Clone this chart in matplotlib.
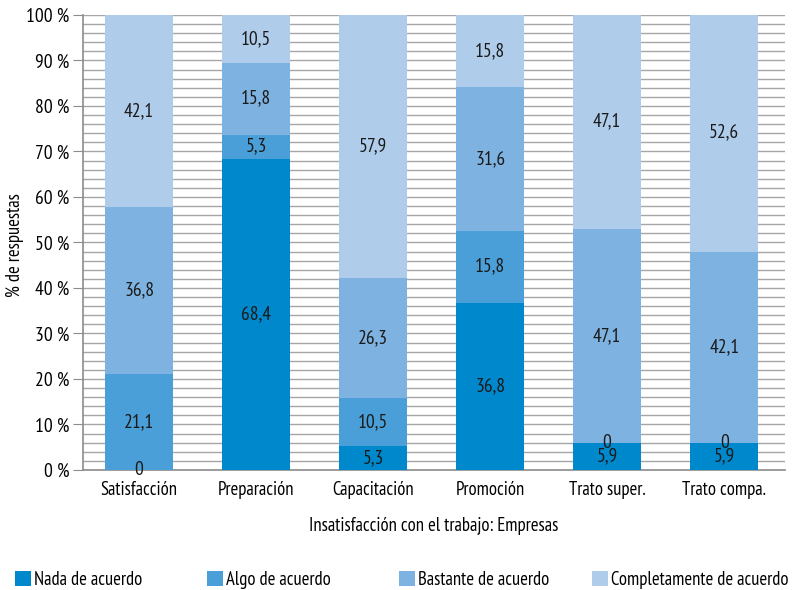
import matplotlib
matplotlib.use("Agg")
import matplotlib.pyplot as plt
from matplotlib import font_manager
from matplotlib.patches import Patch
from matplotlib.ticker import MultipleLocator, FuncFormatter

names = {f.name for f in font_manager.fontManager.ttflist}
preferred = ["PT Sans Narrow", "Fira Sans Condensed", "Roboto Condensed",
             "Open Sans Condensed", "Archivo Narrow", "Asap Condensed",
             "Encode Sans Condensed", "Liberation Sans Narrow", "Barlow Semi Condensed"]
family = next((f for f in preferred if f in names), "DejaVu Sans")
plt.rcParams["font.family"] = [family, "DejaVu Sans"]

categories = ["Satisfacción", "Preparación", "Capacitación", "Promoción",
              "Trato super.", "Trato compa."]
series_names = ["Nada de acuerdo", "Algo de acuerdo", "Bastante de acuerdo",
                "Completamente de acuerdo"]
nada = [0, 68.4, 5.3, 36.8, 5.9, 5.9]
algo = [21.1, 5.3, 10.5, 15.8, 0, 0]
bastante = [36.8, 15.8, 26.3, 31.6, 47.1, 42.1]
completamente = [42.1, 10.5, 57.9, 15.8, 47.1, 52.6]
series = [nada, algo, bastante, completamente]
colors = ["#0088cc", "#4a9fd8", "#7eb2e0", "#afcdeb"]

FS = 13.4

fig = plt.figure(figsize=(7.92, 5.90), dpi=100)
ax = fig.add_axes([0.1048, 0.2034, 0.8864, 0.7712])

x = list(range(len(categories)))
bottoms = [0.0] * len(categories)
for vals, col in zip(series, colors):
    ax.bar(x, vals, bottom=bottoms, width=0.578, color=col, zorder=3)
    for i, v in enumerate(vals):
        ax.text(i, bottoms[i] + v / 2, f"{v:g}".replace(".", ","),
                ha="center", va="center", fontsize=14, color="#1a1a1a", zorder=4)
    bottoms = [b + v for b, v in zip(bottoms, vals)]

ax.set_xlim(-0.48, 5.52)
ax.set_ylim(0, 100)
ax.yaxis.set_major_locator(MultipleLocator(10))
ax.yaxis.set_minor_locator(MultipleLocator(2))
ax.yaxis.set_major_formatter(FuncFormatter(lambda v, p: f"{v:.0f} %"))
ax.grid(axis="y", which="both", color="#a6a6a6", linewidth=1.0, zorder=0)
ax.set_axisbelow(True)

for s in ["top", "right"]:
    ax.spines[s].set_visible(False)
for s in ["left", "bottom"]:
    ax.spines[s].set_color("#8c8c8c")
    ax.spines[s].set_linewidth(1.2)

ax.tick_params(axis="y", which="major", length=7, color="#8c8c8c", labelsize=14, pad=3)
ax.tick_params(axis="y", which="minor", length=0)
ax.tick_params(axis="x", length=0, labelsize=FS, pad=8)
ax.set_xticks(x)
ax.set_xticklabels(categories)

fig.text(0.019, 0.5847, "% de respuestas", rotation=90, ha="center", va="center", fontsize=FS)
ax.set_xlabel("Insatisfacción con el trabajo: Empresas", fontsize=FS, labelpad=13)

# legend entries spread along the bottom
legend_x = [0.0189, 0.2614, 0.5038, 0.7475]
for name, col, lx in zip(series_names, colors, legend_x):
    fig.legend([Patch(facecolor=col, edgecolor="none")], [name],
               loc="center left", bbox_to_anchor=(lx, 0.017), frameon=False,
               fontsize=FS, handlelength=0.86, handleheight=0.86,
               handletextpad=0.15, borderaxespad=0, borderpad=0)

fig.savefig("out.png", dpi=100)
